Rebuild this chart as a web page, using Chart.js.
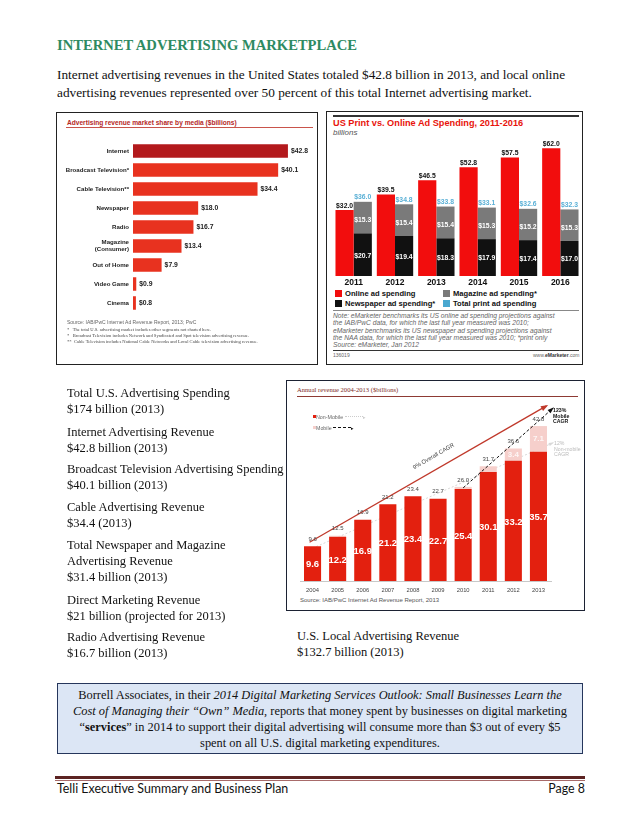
<!DOCTYPE html>
<html>
<head>
<meta charset="utf-8">
<script src="https://cdn.jsdelivr.net/npm/chart.js@4.4.0/dist/chart.umd.min.js"></script>
<style>
  html,body{margin:0;padding:0;background:#fff;}
  body{width:638px;height:826px;position:relative;overflow:hidden;font-family:"Liberation Serif","Times New Roman",serif;color:#111;}
  .abs{position:absolute;white-space:nowrap;}
  .box{position:absolute;box-sizing:border-box;background:#fff;}
  canvas{position:absolute;}
  .lst{position:absolute;left:67px;font-size:12.5px;line-height:16px;white-space:nowrap;}
  .sans{font-family:"Liberation Sans",Arial,sans-serif;}
  .narrow{font-family:"Liberation Sans Narrow","Liberation Sans",Arial,sans-serif;}
  .leg2{position:absolute;font-family:"Liberation Sans",Arial,sans-serif;font-weight:bold;font-size:7.6px;line-height:9px;white-space:nowrap;}
  .leg2 i{display:inline-block;width:7px;height:7px;vertical-align:-1px;margin-right:3px;}
</style>
</head>
<body>
<!-- heading -->
<div class="abs" style="left:57px;top:37px;font-size:14.6px;font-weight:bold;color:#2e8a62;line-height:17px;">INTERNET ADVERTISING MARKETPLACE</div>
<div class="abs" style="left:57px;top:66px;font-size:13.3px;line-height:18px;">Internet advertising revenues in the United States totaled $42.8 billion in 2013, and local online<br>advertising revenues represented over 50 percent of this total Internet advertising market.</div>

<!-- chart 1 box -->
<div class="box" style="left:56px;top:112px;width:262px;height:253px;border:1px solid #222;"></div>
<div class="abs narrow" style="left:67px;top:118px;font-size:6.6px;font-weight:bold;color:#b5271f;line-height:9px;">Advertising revenue market share by media ($billions)</div>
<div class="abs" style="left:66px;top:127px;width:247px;height:1px;background:#c9544b;"></div>
<canvas id="c1" width="256" height="186" style="left:58px;top:134px;"></canvas>
<div class="abs sans" style="left:67px;top:319px;font-size:5px;color:#666;line-height:6px;">Source: IAB/PwC Internet Ad Revenue Report, 2013; PwC</div>
<div class="abs" style="left:67px;top:327px;font-size:4.6px;color:#444;line-height:6px;">*&nbsp;&nbsp;&nbsp;The total U.S. advertising market includes other segments not charted here.<br>*&nbsp;&nbsp;&nbsp;Broadcast Television includes Network and Syndicated and Spot television advertising revenue.<br>**&nbsp;&nbsp;Cable Television includes National Cable Networks and Local Cable television advertising revenue.</div>

<!-- chart 2 box -->
<div class="box" style="left:326px;top:111px;width:257px;height:254px;border:1px solid #222;"></div>
<div class="abs" style="left:333px;top:115px;width:246px;height:2px;background:#333;"></div>
<div class="abs sans" style="left:333px;top:118px;font-size:9.2px;font-weight:bold;color:#e8140c;line-height:10px;">US Print vs. Online Ad Spending, 2011-2016</div>
<div class="abs sans" style="left:333px;top:128px;font-size:8px;font-style:italic;color:#555;line-height:10px;">billions</div>
<canvas id="c2" width="248" height="148" style="left:333px;top:140px;"></canvas>
<div class="leg2" style="left:335px;top:289px;"><i style="background:#f20d0d"></i>Online ad spending</div>
<div class="leg2" style="left:443px;top:289px;"><i style="background:#7a7a7a"></i>Magazine ad spending*</div>
<div class="leg2" style="left:335px;top:299px;"><i style="background:#111"></i>Newspaper ad spending*</div>
<div class="leg2" style="left:443px;top:299px;"><i style="background:#4aa8d0"></i>Total print ad spending</div>
<div class="abs" style="left:333px;top:310px;width:246px;height:1px;background:#888;"></div>
<div class="abs sans" style="left:333px;top:312px;font-size:6.7px;font-style:italic;color:#666;line-height:7.3px;">Note: eMarketer benchmarks its US online ad spending projections against<br>the IAB/PwC data, for which the last full year measured was 2010;<br>eMarketer benchmarks its US newspaper ad spending projections against<br>the NAA data, for which the last full year measured was 2010; *print only<br>Source: eMarketer, Jan 2012</div>
<div class="abs" style="left:333px;top:350px;width:246px;height:1px;background:#333;"></div>
<div class="abs sans" style="left:333px;top:352px;font-size:5px;color:#666;line-height:6px;">136019</div>
<div class="abs sans" style="left:533px;top:352px;font-size:5px;color:#666;line-height:6px;">www.<b style="color:#333">eMarketer</b>.com</div>

<!-- left list -->
<div class="lst" style="top:385px;">Total U.S. Advertising Spending<br>$174 billion (2013)</div>
<div class="lst" style="top:424px;">Internet Advertising Revenue<br>$42.8 billion (2013)</div>
<div class="lst" style="top:461px;">Broadcast Television Advertising Spending<br>$40.1 billion (2013)</div>
<div class="lst" style="top:499px;">Cable Advertising Revenue<br>$34.4 (2013)</div>
<div class="lst" style="top:537px;">Total Newspaper and Magazine<br>Advertising Revenue<br>$31.4 billion (2013)</div>
<div class="lst" style="top:592px;">Direct Marketing Revenue<br>$21 billion (projected for 2013)</div>
<div class="lst" style="top:629px;">Radio Advertising Revenue<br>$16.7 billion (2013)</div>

<!-- chart 3 box -->
<div class="box" style="left:286px;top:380px;width:299px;height:231px;border:1px solid #1c2233;"></div>
<div class="abs" style="left:297px;top:386px;font-size:6.6px;color:#7d2a26;line-height:8px;">Annual revenue 2004-2013 ($billions)</div>
<div class="abs" style="left:297px;top:396px;width:281px;height:1px;background:#8e3a34;"></div>
<canvas id="c3" width="291" height="195" style="left:290px;top:400px;"></canvas>
<div class="abs sans" style="left:313px;top:414px;font-size:5.3px;color:#666;line-height:6px;"><span style="display:inline-block;width:3px;height:3px;background:#e3200f;vertical-align:1px;"></span>Non-Mobile <span style="display:inline-block;width:18px;border-top:1px dotted #ccc;vertical-align:2px;"></span><span style="color:#ccc">&#9656;</span></div>
<div class="abs sans" style="left:313px;top:425px;font-size:5.3px;color:#666;line-height:6px;"><span style="display:inline-block;width:3px;height:3px;background:#f6cfcb;vertical-align:1px;"></span>Mobile <span style="display:inline-block;width:18px;border-top:1px dashed #111;vertical-align:2px;"></span><span style="color:#111">&#9656;</span></div>
<div class="abs sans" style="left:410px;top:453px;font-size:5.8px;color:#444;line-height:6px;transform:rotate(-30deg);transform-origin:center;">9% Overall CAGR</div>
<div class="abs sans" style="left:553px;top:408px;font-size:5.2px;font-weight:bold;color:#111;line-height:5.6px;">123%<br>Mobile<br>CAGR</div>
<div class="abs sans" style="left:554px;top:441px;font-size:5.2px;color:#bbb;line-height:5.6px;">12%<br>Non-mobile<br>CAGR</div>
<div class="abs sans" style="left:300px;top:597px;font-size:6px;color:#555;line-height:7px;">Source: IAB/PwC Internet Ad Revenue Report, 2013</div>

<div class="lst" style="left:297px;top:628px;">U.S. Local Advertising Revenue<br>$132.7 billion (2013)</div>

<!-- blue box -->
<div class="box" style="left:57px;top:683px;width:526px;height:71px;border:1.5px solid #26365c;background:#dce6f5;"></div>
<div class="abs" style="left:57px;top:687px;width:526px;text-align:center;font-size:12.4px;line-height:16px;">Borrell Associates, in their <i>2014 Digital Marketing Services Outlook: Small Businesses Learn the</i><br><i>Cost of Managing their “Own” Media</i>, reports that money spent by businesses on digital marketing<br>“<b>services</b>” in 2014 to support their digital advertising will consume more than $3 out of every $5<br>spent on all U.S. digital marketing expenditures.</div>

<!-- footer -->
<div class="abs" style="left:55px;top:776px;width:530px;height:3px;background:#5c2322;"></div>
<div class="abs" style="left:55px;top:780px;width:530px;height:1px;background:#a86b6a;"></div>
<div class="abs" style="left:57px;top:781px;font-family:Lato,'Liberation Sans',sans-serif;font-size:12.4px;line-height:15px;">Telli Executive Summary and Business Plan</div>
<div class="abs" style="left:545px;top:781px;width:40px;text-align:right;font-family:Lato,'Liberation Sans',sans-serif;font-size:12.4px;line-height:15px;">Page 8</div>

<script>
// ---------- data ----------
const mediaLabels = ['Internet', 'Broadcast Television*', 'Cable Television**', 'Newspaper', 'Radio', ['Magazine', '(Consumer)'], 'Out of Home', 'Video Game', 'Cinema'];
const mediaValues = [42.8, 40.1, 34.4, 18.0, 16.7, 13.4, 7.9, 0.9, 0.8];

const spendYears = ['2011', '2012', '2013', '2014', '2015', '2016'];
const onlineSpend = [32.0, 39.5, 46.5, 52.8, 57.5, 62.0];
const newspaperSpend = [20.7, 19.4, 18.3, 17.9, 17.4, 17.0];
const magazineSpend = [15.3, 15.4, 15.4, 15.3, 15.2, 15.3];
const totalPrintSpend = [36.0, 34.8, 33.8, 33.1, 32.6, 32.3];

const revenueYears = ['2004', '2005', '2006', '2007', '2008', '2009', '2010', '2011', '2012', '2013'];
const nonMobileRevenue = [9.6, 12.2, 16.9, 21.2, 23.4, 22.7, 25.4, 30.1, 33.2, 35.7];
const mobileRevenue = [0, 0.3, 0, 0, 0, 0, 0.6, 1.6, 3.4, 7.1];
const totalRevenue = [9.6, 12.5, 16.9, 21.2, 23.4, 22.7, 26.0, 31.7, 36.6, 42.8];

Chart.defaults.font.family = '"Liberation Sans", Arial, sans-serif';
Chart.defaults.animation = false;
Chart.defaults.plugins.legend.display = false;
Chart.defaults.plugins.tooltip.enabled = false;

// ---------- chart 1 ----------
new Chart(document.getElementById('c1'), {
  type: 'bar',
  data: {
    labels: mediaLabels,
    datasets: [{
      data: mediaValues,
      backgroundColor: mediaValues.map((v, i) => i === 0 ? '#b3191c' : '#e8321f'),
      barPercentage: 0.7, categoryPercentage: 1
    }]
  },
  options: {
    indexAxis: 'y', responsive: false, devicePixelRatio: 1,
    layout: { padding: 0 },
    scales: {
      x: { display: false, min: 0, max: 50 },
      y: {
        grid: { display: false, drawTicks: false }, border: { display: false },
        ticks: { autoSkip: false, color: '#222', padding: 4, font: { size: 6.1, weight: 'bold', lineHeight: 1.15 } },
        afterFit: s => { s.width = 75; }
      }
    }
  },
  plugins: [{
    id: 'lbl1',
    afterDatasetsDraw(chart) {
      const ctx = chart.ctx;
      ctx.save();
      ctx.font = 'bold 6.8px "Liberation Sans",Arial';
      ctx.fillStyle = '#222'; ctx.textBaseline = 'middle'; ctx.textAlign = 'left';
      chart.getDatasetMeta(0).data.forEach((b, i) => {
        ctx.fillText('$' + mediaValues[i].toFixed(1), b.x + 3, b.y + 0.5);
      });
      ctx.restore();
    }
  }]
});

// ---------- chart 2 ----------
new Chart(document.getElementById('c2'), {
  type: 'bar',
  data: {
    labels: spendYears,
    datasets: [
      { label: 'Online ad spending', data: onlineSpend, backgroundColor: '#f20d0d', stack: 'online' },
      { label: 'Newspaper ad spending*', data: newspaperSpend, backgroundColor: '#111111', stack: 'print' },
      { label: 'Magazine ad spending*', data: magazineSpend, backgroundColor: '#7a7a7a', stack: 'print' }
    ]
  },
  options: {
    responsive: false, devicePixelRatio: 1,
    layout: { padding: 0 },
    datasets: { bar: { categoryPercentage: 0.88, barPercentage: 1 } },
    scales: {
      x: {
        stacked: true, grid: { display: false, drawTicks: false }, border: { display: false },
        ticks: { color: '#111', padding: 2, font: { size: 8.5, weight: 'bold' } },
        afterFit: s => { s.height = 12; }
      },
      y: { stacked: true, display: false, min: 0, max: 66 }
    }
  },
  plugins: [{
    id: 'lbl2',
    afterDatasetsDraw(chart) {
      const ctx = chart.ctx;
      ctx.save();
      ctx.textAlign = 'center';
      ctx.font = 'bold 6.8px "Liberation Sans",Arial';
      const on = chart.getDatasetMeta(0).data, np = chart.getDatasetMeta(1).data, mg = chart.getDatasetMeta(2).data;
      on.forEach((b, i) => {
        ctx.fillStyle = '#111'; ctx.textBaseline = 'bottom';
        ctx.fillText('$' + onlineSpend[i].toFixed(1), b.x, b.y - 1);
      });
      mg.forEach((b, i) => {
        ctx.fillStyle = '#5ab0d6'; ctx.textBaseline = 'bottom';
        ctx.fillText('$' + totalPrintSpend[i].toFixed(1), b.x, b.y - 1);
        ctx.fillStyle = '#fff'; ctx.textBaseline = 'middle';
        ctx.fillText('$' + magazineSpend[i].toFixed(1), b.x, (b.y + b.base) / 2 + 3);
      });
      np.forEach((b, i) => {
        ctx.fillStyle = '#fff'; ctx.textBaseline = 'middle';
        ctx.fillText('$' + newspaperSpend[i].toFixed(1), b.x, (b.y + b.base) / 2 + 1);
      });
      ctx.restore();
    }
  }]
});

// ---------- chart 3 ----------
function arrow(ctx, x1, y1, x2, y2, color, w, dash, head) {
  ctx.save();
  ctx.strokeStyle = color; ctx.fillStyle = color; ctx.lineWidth = w; ctx.setLineDash(dash);
  ctx.beginPath(); ctx.moveTo(x1, y1); ctx.lineTo(x2, y2); ctx.stroke();
  ctx.setLineDash([]);
  const a = Math.atan2(y2 - y1, x2 - x1);
  ctx.beginPath(); ctx.moveTo(x2 + Math.cos(a) * 2, y2 + Math.sin(a) * 2);
  ctx.lineTo(x2 - head * Math.cos(a - 0.45), y2 - head * Math.sin(a - 0.45));
  ctx.lineTo(x2 - head * Math.cos(a + 0.45), y2 - head * Math.sin(a + 0.45));
  ctx.closePath(); ctx.fill();
  ctx.restore();
}
new Chart(document.getElementById('c3'), {
  type: 'bar',
  data: {
    labels: revenueYears,
    datasets: [
      { label: 'Non-Mobile', data: nonMobileRevenue, backgroundColor: '#e3200f' },
      { label: 'Mobile', data: mobileRevenue, backgroundColor: '#f6cfcb' }
    ]
  },
  options: {
    responsive: false, devicePixelRatio: 1,
    layout: { padding: { left: 10, right: 30, top: 0, bottom: 0 } },
    datasets: { bar: { categoryPercentage: 0.68, barPercentage: 1 } },
    scales: {
      x: {
        stacked: true, grid: { display: false, drawTicks: false }, border: { display: true, color: '#c8c8c8' },
        ticks: { color: '#444', padding: 6, font: { size: 5.8 } },
        afterFit: s => { s.height = 14; }
      },
      y: { stacked: true, display: false, min: 0, max: 50 }
    }
  },
  plugins: [{
    id: 'lbl3',
    beforeDatasetsDraw(chart) {
      const xs = chart.scales.x, ys = chart.scales.y, ctx = chart.ctx, n = totalRevenue.length - 1;
      arrow(ctx, xs.getPixelForValue(0) - 3, ys.getPixelForValue(totalRevenue[0]) - 4,
        xs.getPixelForValue(n) + 8, ys.getPixelForValue(totalRevenue[n] * 1.13), '#c0392b', 1.3, [], 6);
      arrow(ctx, xs.getPixelForValue(0), ys.getPixelForValue(nonMobileRevenue[0]) + 2,
        xs.getPixelForValue(n) + 14, ys.getPixelForValue(nonMobileRevenue[n] + 2.4), '#d8d8d8', 1, [2, 2], 4);
    },
    afterDatasetsDraw(chart) {
      const xs = chart.scales.x, ys = chart.scales.y, ctx = chart.ctx, n = totalRevenue.length - 1;
      arrow(ctx, xs.getPixelForValue(6), ys.getPixelForValue(totalRevenue[6]) + 1,
        xs.getPixelForValue(n) + 14, ys.getPixelForValue(totalRevenue[n] + 4.8), '#111', 1, [3, 2], 5);
      ctx.save();
      ctx.textAlign = 'center';
      const nm = chart.getDatasetMeta(0).data, mb = chart.getDatasetMeta(1).data;
      nm.forEach((b, i) => {
        ctx.fillStyle = '#fff'; ctx.textBaseline = 'middle';
        ctx.font = 'bold 9.5px "Liberation Sans",Arial';
        ctx.fillText(nonMobileRevenue[i].toFixed(1), b.x, (b.y + b.base) / 2 + 1);
        ctx.fillStyle = '#444'; ctx.textBaseline = 'bottom';
        ctx.font = '6px "Liberation Sans",Arial';
        ctx.fillText(totalRevenue[i].toFixed(1), b.x, ys.getPixelForValue(totalRevenue[i]) - 4);
      });
      mb.forEach((b, i) => {
        if (mobileRevenue[i] >= 3) {
          ctx.fillStyle = 'rgba(255,255,255,0.8)'; ctx.textBaseline = 'middle';
          ctx.font = 'bold 8px "Liberation Sans",Arial';
          ctx.fillText(mobileRevenue[i].toFixed(1), b.x, (b.y + b.base) / 2);
        }
      });
      ctx.restore();
    }
  }]
});
</script>
</body>
</html>
